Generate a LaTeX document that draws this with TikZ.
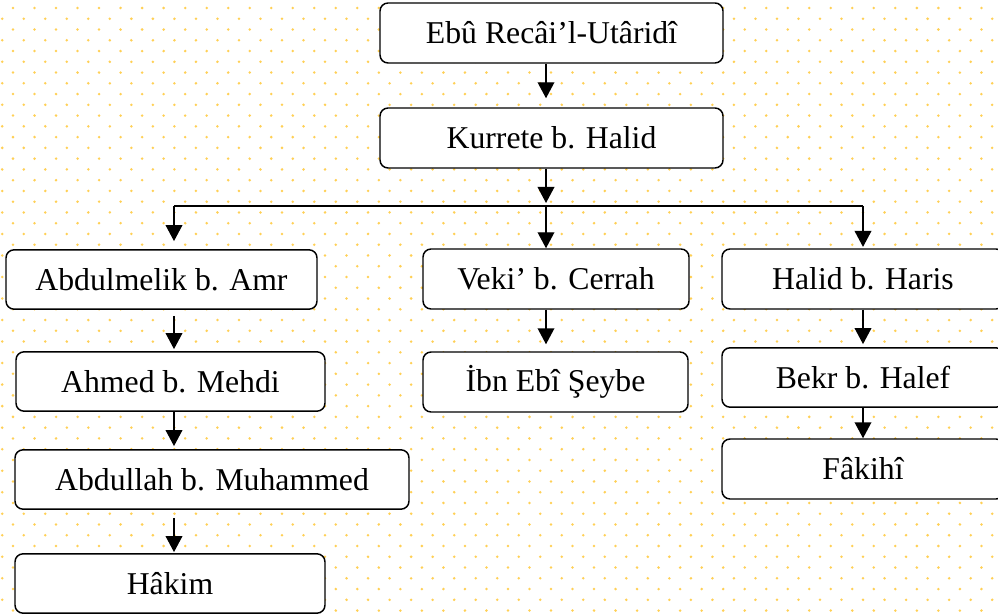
\documentclass[tikz,border=0pt]{standalone}
\usepackage{fontspec}
\setmainfont{Liberation Serif}
\usetikzlibrary{arrows.meta}
\definecolor{dotc}{RGB}{255,208,85}
\begin{document}
\begin{tikzpicture}[x=0.75pt,y=-0.75pt,
  box/.style={draw, line width=1.1pt, rounded corners=6pt, fill=white, minimum height=44.5pt, inner sep=0pt, font=\fontsize{23.8}{28}\selectfont},
  arr/.style={line width=1.1pt, -{Triangle[width=12.5pt,length=12pt]}},
  link/.style={line width=1.1pt}]
\useasboundingbox (0,0) rectangle (998,616);
\clip (0,0) rectangle (998,616);
\fill[white] (0,0) rectangle (998,616);
% dotted background
\foreach \i in {0,...,57}{
  \pgfmathsetmacro\yy{8+10.76*\i}
  \pgfmathsetmacro\xo{mod(\i,2)==1 ? 2.24 : 13}
  \foreach \j in {0,...,46}{
    \fill[dotc] (\xo+21.52*\j,\yy) circle[radius=1.05pt];
  }
}
% boxes
\node[box, minimum width=257.25pt, minimum height=45pt] (e1) at (551.5,33) {Ebû Recâi’l-Utâridî};
\node[box, minimum width=257.25pt, minimum height=45pt] (e2) at (551.5,138) {Kurrete b. Halid};
\node[box, minimum width=233.25pt] (a1) at (161.5,279.5) {Abdulmelik b. Amr};
\node[box, minimum width=231.75pt] (a2) at (170.5,381.5) {Ahmed b. Mehdi};
\node[box, minimum width=295.5pt] (a3) at (212,479.5) {Abdullah b. Muhammed};
\node[box, minimum width=232.5pt] (a4) at (170,583.5) {Hâkim};
\node[box, minimum width=199.5pt, minimum height=45pt] (v1) at (556,279) {Veki’ b. Cerrah};
\node[box, minimum width=198.75pt, minimum height=45pt] (v2) at (555.5,382) {İbn Ebî Şeybe};
\node[box, minimum width=211.5pt, minimum height=45pt] (h1) at (863,279) {Halid b. Haris};
\node[box, minimum width=211.5pt] (h2) at (863,377.5) {Bekr b. Halef};
\node[box, minimum width=211.5pt, minimum height=45pt] (h3) at (863,469) {Fâkihî};
% reference coordinates
\coordinate (cL) at (174,0);
\coordinate (cM) at (546,0);
\coordinate (cR) at (863,0);
\coordinate (bar) at (0,206);
% connectors
\draw[arr, shorten >=6.75pt] (e1.south -| cM) -- (e2.north -| cM);
\draw[arr, shorten >=2.25pt] (e2.south -| cM) -- (cM |- bar);
\draw[link] (cL |- bar) -- (cR |- bar);
\draw[arr, shorten >=6pt] (cL |- bar) -- (a1.north -| cL);
\draw[arr] (cM |- bar) -- (v1.north -| cM);
\draw[arr, shorten >=1pt] (cR |- bar) -- (h1.north -| cR);
\draw[arr, shorten <=4.5pt, shorten >=1.5pt] (a1.south -| cL) -- (a2.north -| cL);
\draw[arr, shorten >=2.25pt] (a2.south -| cL) -- (a3.north -| cL);
\draw[arr, shorten <=6pt, shorten >=0.75pt] (a3.south -| cL) -- (a4.north -| cL);
\draw[arr, shorten >=5.25pt] (v1.south -| cM) -- (v2.north -| cM);
\draw[arr, shorten >=2.25pt] (h1.south -| cR) -- (h2.north -| cR);
\draw[arr] (h2.south -| cR) -- (h3.north -| cR);
\end{tikzpicture}
\end{document}
